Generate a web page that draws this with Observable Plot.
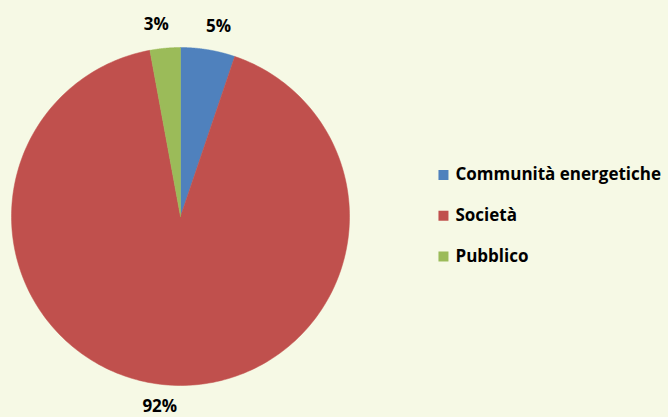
<!DOCTYPE html>
<html>
<head>
<meta charset="utf-8">
<script src="https://cdn.jsdelivr.net/npm/d3@7"></script>
<script src="https://cdn.jsdelivr.net/npm/@observablehq/plot@0.6"></script>
<style>
  html, body { margin: 0; padding: 0; background: #F6F9E5; }
  #chart { width: 668px; height: 417px; }
</style>
</head>
<body>
<div id="chart"></div>
<script>
const categories = ["Communità energetiche", "Società", "Pubblico"];
const values = [5.2, 91.9, 2.9];
const labels = ["5%", "92%", "3%"];
const colors = ["#4F81BD", "#C0504D", "#9BBB59"];

const arcs = d3.pie().sort(null).value(d => d.value)(
  categories.map((c, i) => ({cat: c, value: values[i], label: labels[i]}))
);

// polygon outline of each slice in unit-circle coordinates
const slicePts = [];
for (const a of arcs) {
  slicePts.push({cat: a.data.cat, x: 0, y: 0});
  const n = 240;
  for (let k = 0; k <= n; k++) {
    const t = a.startAngle + (a.endAngle - a.startAngle) * k / n;
    slicePts.push({cat: a.data.cat, x: Math.sin(t), y: Math.cos(t)});
  }
  slicePts.push({cat: a.data.cat, x: 0, y: 0});
}

const labelPts = arcs.map(a => {
  const m = (a.startAngle + a.endAngle) / 2;
  return {label: a.data.label, x: 1.125 * Math.sin(m), y: 1.125 * Math.cos(m), s: Math.sign(Math.sin(m)), c: Math.cos(m)};
});

const legend = categories.map((c, i) => ({cat: c, y: 0.2456 - i * 0.2411}));

const font = "'Open Sans', Lato, sans-serif";

const chart = Plot.plot({
  width: 668,
  height: 417,
  marginLeft: 11,
  marginRight: 319,
  marginTop: 47,
  marginBottom: 32,
  x: {domain: [-1, 1], axis: null},
  y: {domain: [-1, 1], axis: null},
  color: {domain: categories, range: colors},
  style: {background: "#F6F9E5", fontFamily: font, overflow: "visible"},
  marks: [
    Plot.line(slicePts, {x: "x", y: "y", z: "cat", fill: "cat", stroke: "cat", strokeWidth: 0.5, curve: "linear"}),
    Plot.text(labelPts, {x: "x", y: "y", text: "label", fontSize: 17, fontWeight: "bold", fill: "#000"}),
    Plot.dot(legend, {x: () => 1.556, y: "y", symbol: "square", r: 5.64, fill: "cat", stroke: null}),
    Plot.text(legend, {x: () => 1.556, y: "y", text: "cat", dx: 12, textAnchor: "start", fontSize: 17, fontWeight: "bold", fill: "#000"})
  ]
});

// nudge percentage labels horizontally away from the slice ray, Excel-style
d3.select(chart).selectAll("g[aria-label='text']").filter((d, i) => i === 0)
  .selectAll("text").each(function(_, i) {
    const p = labelPts[i];
    d3.select(this).attr("dx", p.s * 7).attr("dy", (p.c > 0 ? -p.c * 2.5 : 0) + "px");
  });

document.getElementById("chart").append(chart);
</script>
</body>
</html>
